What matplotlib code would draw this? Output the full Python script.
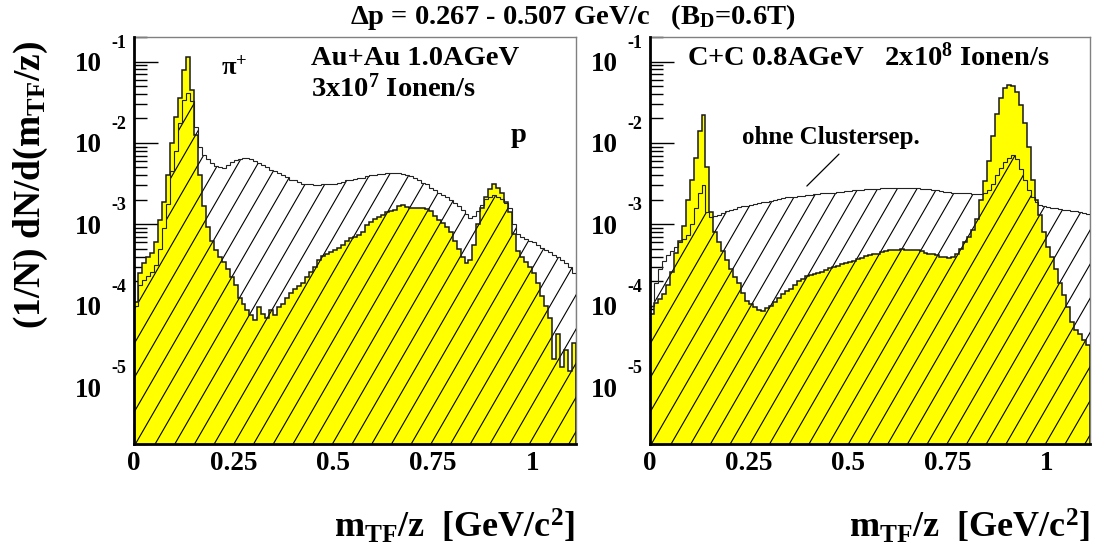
import numpy as np
import matplotlib
matplotlib.use("Agg")
import matplotlib.pyplot as plt
from matplotlib.collections import LineCollection
from matplotlib.ticker import LogLocator, MultipleLocator, NullFormatter, FixedLocator

# ---------------- data (log10 of (1/N) dN/d(m/z), bins of 0.01 from 0 to 1.11) ----------------
bin_edges = np.round(np.arange(0, 112) * 0.01, 3)

# Au+Au 1.0 AGeV, 3x10^7 Ionen/s  -- with cluster separation (yellow)
auau_mit = [-3.95, -3.60, -3.48, -3.40, -3.35, -3.22, -2.95, -2.72, -2.40, -2.00,
            -1.68, -1.45, -1.10, -0.95, -1.35, -1.90, -2.40, -2.78, -3.03, -3.20,
            -3.32, -3.40, -3.46, -3.55, -3.65, -3.75, -3.90, -3.98, -4.05, -4.12,
            -4.18, -4.02, -4.10, -4.15, -4.05, -4.12, -4.02, -3.98, -3.90, -3.85,
            -3.80, -3.76, -3.72, -3.65, -3.58, -3.52, -3.44, -3.39, -3.37, -3.34,
            -3.32, -3.29, -3.26, -3.21, -3.17, -3.15, -3.13, -3.10, -3.01, -2.97,
            -2.93, -2.91, -2.88, -2.85, -2.84, -2.82, -2.78, -2.76, -2.79, -2.80,
            -2.80, -2.80, -2.80, -2.81, -2.84, -2.90, -2.95, -2.99, -3.03, -3.09,
            -3.20, -3.30, -3.40, -3.48, -3.44, -3.25, -3.00, -2.80, -2.66, -2.57,
            -2.50, -2.55, -2.62, -2.72, -2.85, -3.12, -3.33, -3.40, -3.46, -3.53,
            -3.60, -3.72, -3.88, -4.00, -4.15, -4.65, -4.35, -4.75, -4.55, -4.80,
            -4.46]
# Au+Au -- ohne Clustersep. (hatched)
auau_ohne = [-4.00, -3.75, -3.68, -3.64, -3.58, -3.50, -3.30, -3.05, -2.75, -2.35,
             -2.10, -1.75, -1.47, -1.39, -1.48, -1.80, -2.05, -2.15, -2.20, -2.25,
             -2.28, -2.30, -2.31, -2.27, -2.23, -2.21, -2.20, -2.19, -2.19, -2.20,
             -2.22, -2.25, -2.27, -2.30, -2.33, -2.35, -2.37, -2.39, -2.42, -2.45,
             -2.46, -2.48, -2.50, -2.51, -2.51, -2.52, -2.52, -2.51, -2.51, -2.50,
             -2.50, -2.49, -2.48, -2.46, -2.45, -2.44, -2.43, -2.43, -2.41, -2.40,
             -2.39, -2.38, -2.38, -2.37, -2.37, -2.37, -2.37, -2.38, -2.39, -2.41,
             -2.43, -2.46, -2.49, -2.51, -2.55, -2.58, -2.61, -2.64, -2.67, -2.70,
             -2.74, -2.78, -2.83, -2.87, -2.92, -2.90, -2.84, -2.76, -2.69, -2.66,
             -2.64, -2.66, -2.69, -2.74, -2.80, -3.00, -3.12, -3.16, -3.18, -3.20,
             -3.22, -3.26, -3.29, -3.32, -3.34, -3.38, -3.40, -3.44, -3.48, -3.52,
             -3.60]
# C+C 0.8 AGeV, 2x10^8 Ionen/s -- with cluster separation (yellow)
cc_mit = [-4.10, -3.97, -3.92, -3.86, -3.75, -3.58, -3.35, -3.20, -3.02, -2.70,
          -2.45, -2.18, -1.85, -1.66, -2.30, -2.85, -3.10, -3.22, -3.33, -3.44,
          -3.55, -3.65, -3.72, -3.85, -3.94, -3.98, -4.02, -4.05, -4.07, -4.03,
          -4.00, -3.96, -3.91, -3.86, -3.82, -3.79, -3.75, -3.70, -3.67, -3.64,
          -3.62, -3.61, -3.60, -3.58, -3.56, -3.54, -3.53, -3.51, -3.49, -3.47,
          -3.46, -3.45, -3.43, -3.41, -3.39, -3.38, -3.37, -3.36, -3.34, -3.33,
          -3.32, -3.31, -3.31, -3.30, -3.31, -3.32, -3.32, -3.32, -3.33, -3.35,
          -3.36, -3.37, -3.38, -3.40, -3.40, -3.41, -3.40, -3.36, -3.30, -3.22,
          -3.15, -3.07, -2.93, -2.70, -2.47, -2.22, -1.92, -1.64, -1.45, -1.33,
          -1.29, -1.30, -1.38, -1.53, -1.75, -2.05, -2.45, -2.70, -2.88, -3.10,
          -3.28, -3.40, -3.55, -3.72, -3.87, -4.02, -4.20, -4.30, -4.35, -4.42,
          -4.48]
# C+C -- ohne Clustersep. (hatched)
cc_ohne = [-4.00, -3.72, -3.55, -3.45, -3.38, -3.33, -3.28, -3.22, -3.18, -3.13,
           -3.00, -2.80, -2.62, -2.52, -2.85, -2.91, -2.90, -2.88, -2.86, -2.84,
           -2.82, -2.81, -2.79, -2.78, -2.77, -2.76, -2.75, -2.74, -2.73, -2.72,
           -2.71, -2.70, -2.69, -2.68, -2.67, -2.66, -2.66, -2.65, -2.65, -2.64,
           -2.64, -2.63, -2.63, -2.62, -2.62, -2.61, -2.61, -2.60, -2.60, -2.59,
           -2.59, -2.58, -2.58, -2.58, -2.57, -2.57, -2.57, -2.57, -2.56, -2.56,
           -2.56, -2.56, -2.56, -2.56, -2.56, -2.56, -2.56, -2.56, -2.57, -2.57,
           -2.57, -2.58, -2.58, -2.59, -2.60, -2.60, -2.61, -2.61, -2.62, -2.62,
           -2.62, -2.63, -2.63, -2.63, -2.62, -2.58, -2.50, -2.40, -2.31, -2.24,
           -2.18, -2.15, -2.20, -2.32, -2.45, -2.58, -2.67, -2.72, -2.76, -2.78,
           -2.79, -2.80, -2.80, -2.81, -2.82, -2.83, -2.84, -2.84, -2.85, -2.86,
           -2.87]

x_ticks = [0, 0.25, 0.5, 0.75, 1.0]
x_ticklabels = ["0", "0.25", "0.5", "0.75", "1"]
y_exponents = [-5, -4, -3, -2, -1]

title_text = r"$\Delta$p = 0.267 - 0.507 GeV/c   (B$_{D}$=0.6T)"
ylabel_text = r"(1/N) dN/d(m$_{TF}$/z)"
xlabel_text = r"m$_{TF}$/z  [GeV/c$^{2}$]"

# ---------------- style ----------------
plt.rcParams.update({
    "font.family": "Liberation Serif",
    "font.weight": "bold",
    "mathtext.fontset": "custom",
    "mathtext.rm": "Liberation Serif:bold",
    "mathtext.it": "Liberation Serif:bold",
    "mathtext.bf": "Liberation Serif:bold",
    "mathtext.default": "rm",
})

W, H = 1093, 552
fig = plt.figure(figsize=(W / 100, H / 100), dpi=100)

def px_axes(l, t, r, b):
    return fig.add_axes([l / W, 1 - b / H, (r - l) / W, (b - t) / H])

ax_l = px_axes(134, 37, 576, 444)
ax_r = px_axes(650, 37, 1090, 444)

YMIN, YMAX = 2e-6, 0.2


def add_hatch(ax, clip_patch, spacing=19.7, angle=60):
    bb = ax.get_window_extent()
    w, h = bb.width, bb.height
    t = 1.0 / np.tan(np.radians(angle))
    starts = np.arange(-h * t, w + spacing, spacing)
    segs = [[(s / w, 0.0), ((s + h * t) / w, 1.0)] for s in starts]
    lc = LineCollection(segs, transform=ax.transAxes, colors="black",
                        linewidths=0.8, zorder=3)
    lc.set_clip_path(clip_patch)
    ax.add_collection(lc, autolim=False)


def draw_panel(ax, mit, ohne):
    mit_v = 10.0 ** np.asarray(mit)
    ohne_v = 10.0 ** np.asarray(ohne)
    ax.stairs(mit_v, bin_edges, baseline=1e-8, fill=True, facecolor="#ffff00",
              edgecolor="none", zorder=2)
    clip = ax.stairs(ohne_v, bin_edges, baseline=1e-8, fill=True,
                     facecolor="none", edgecolor="none", zorder=1)
    add_hatch(ax, clip)
    ax.stairs(mit_v, bin_edges, baseline=1e-8, fill=False, edgecolor="#1a1a1a",
              linewidth=1.1, zorder=4)
    ax.stairs(ohne_v, bin_edges, baseline=1e-8, fill=False, edgecolor="#222222",
              linewidth=0.8, zorder=5)

    ax.set_yscale("log")
    ax.set_xlim(0, 1.11)
    ax.set_ylim(YMIN, YMAX)

    ax.xaxis.set_major_locator(FixedLocator(x_ticks))
    ax.set_xticklabels(x_ticklabels)
    ax.xaxis.set_minor_locator(MultipleLocator(0.05))
    ax.yaxis.set_major_locator(FixedLocator([10.0 ** e for e in y_exponents]))
    ax.set_yticklabels(["10"] * len(y_exponents))
    ax.yaxis.set_minor_locator(LogLocator(base=10, subs=np.arange(2, 10)))
    ax.yaxis.set_minor_formatter(NullFormatter())

    ax.tick_params(axis="x", which="both", direction="in", top=False,
                   labelsize=19.5, pad=5, width=1.0, color="#333333")
    ax.tick_params(axis="x", which="major", length=15)
    ax.tick_params(axis="x", which="minor", length=7)
    ax.tick_params(axis="y", which="both", direction="in", right=False,
                   labelsize=19.5, pad=23, width=1.0, color="black")
    ax.tick_params(axis="y", which="major", length=17)
    ax.tick_params(axis="y", which="minor", length=9)
    for lab in ax.get_xticklabels() + ax.get_yticklabels():
        lab.set_fontweight("bold")

    for e in y_exponents:
        ax.annotate(str(e), xy=(0, 10.0 ** e), xycoords=("axes fraction", "data"),
                    xytext=(-23, 14), textcoords="offset pixels",
                    ha="left", va="baseline", fontsize=13, fontweight="bold",
                    annotation_clip=False)

    for side in ("left", "bottom"):
        ax.spines[side].set_linewidth(2.0)
        ax.spines[side].set_color("black")
        ax.spines[side].set_zorder(10)
    for side in ("top", "right"):
        ax.spines[side].set_linewidth(1.0)
        ax.spines[side].set_color("#808080")


draw_panel(ax_l, auau_mit, auau_ohne)
draw_panel(ax_r, cc_mit, cc_ohne)

# --- panel annotations ---
ax_l.text(0.197, 0.909, r"$\pi^{+}$", transform=ax_l.transAxes, fontsize=19,
          ha="left", va="baseline", zorder=20)
ax_l.text(0.40, 0.931, "Au+Au 1.0AGeV", transform=ax_l.transAxes, fontsize=20.5,
          ha="left", va="baseline", zorder=20)
ax_l.text(0.40, 0.853, r"3x10$^{7}$ Ionen/s", transform=ax_l.transAxes, fontsize=20.5,
          ha="left", va="baseline", zorder=20)
ax_l.text(0.871, 0.742, "p", transform=ax_l.transAxes, fontsize=20.5,
          ha="center", va="baseline", zorder=20)

ax_r.text(0.084, 0.929, r"C+C 0.8AGeV   2x10$^{8}$ Ionen/s", transform=ax_r.transAxes,
          fontsize=20.5, ha="left", va="baseline", zorder=20)
ax_r.text(0.209, 0.737, "ohne Clustersep.", transform=ax_r.transAxes, fontsize=18,
          ha="left", va="baseline", zorder=20)
ax_r.annotate("", xy=(0.352, 0.629), xycoords="axes fraction",
              xytext=(0.434, 0.717), textcoords="axes fraction",
              arrowprops=dict(arrowstyle="-", color="black", lw=0.9), zorder=20)

# --- figure labels ---
fig.text(573 / W, 1 - 24 / H, title_text, fontsize=20.5, ha="center", va="baseline")
fig.text(31 / W, 1 - 185 / H, ylabel_text, fontsize=27, rotation=90,
         ha="center", va="center")
fig.text(575 / W, 1 - 538 / H, xlabel_text, fontsize=26, ha="right", va="baseline")
fig.text(1090 / W, 1 - 538 / H, xlabel_text, fontsize=26, ha="right", va="baseline")

fig.savefig("out.png", dpi=100)
